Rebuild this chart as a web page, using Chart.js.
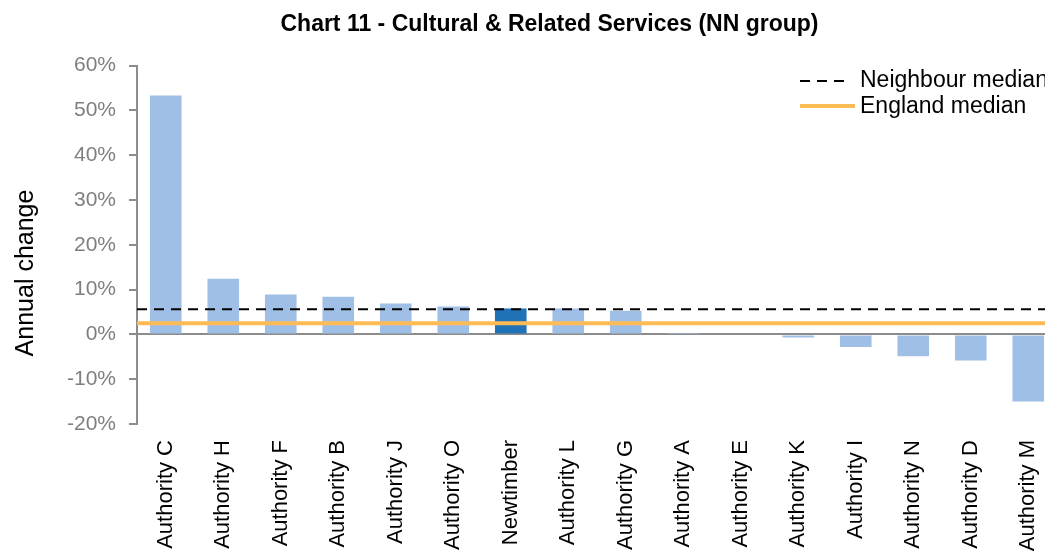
<!DOCTYPE html>
<html lang="en">
<head>
  <meta charset="UTF-8">
  <title>Chart 11 - Cultural & Related Services (NN group)</title>
  <script src="https://cdn.jsdelivr.net/npm/chart.js"></script>
  <style>
    body { margin: 0; background: #fff; }
    #wrap { width: 1045px; height: 552px; overflow: hidden; }
  </style>
</head>
<body>
<div id="wrap"><canvas id="chart11" width="1045" height="552"></canvas></div>

<script>
  const authorities = ['Authority C', 'Authority H', 'Authority F', 'Authority B', 'Authority J', 'Authority O',
    'Newtimber', 'Authority L', 'Authority G', 'Authority A', 'Authority E', 'Authority K',
    'Authority I', 'Authority N', 'Authority D', 'Authority M'];
  const annualChange = [53.3, 12.4, 8.9, 8.4, 6.9, 6.2, 5.8, 5.8, 5.3, 0.3, 0.2, -0.7, -2.8, -4.9, -5.8, -15.0];
  const neighbourMedian = 5.6;
  const englandMedian = 2.5;
  const yTicks = [60, 50, 40, 30, 20, 10, 0, -10, -20];

  const lightBlue = '#a0bfe6';
  const darkBlue = '#1f72b6';
  const orange = '#fdbb55';
  const fontFamily = '"Liberation Sans", Arial, sans-serif';

  const barColours = authorities.map(a => a === 'Newtimber' ? darkBlue : lightBlue);
  const fullSpan = [0, authorities.length];

  // the original plot runs a little past the right edge of the picture
  const overhang = 12;
  const overhangPlugin = {
    id: 'overhang',
    afterLayout(chart) {
      ['x', 'xLine'].forEach(id => {
        const s = chart.scales[id];
        s.right += overhang;
        s.width += overhang;
        s.configure();
      });
    }
  };

  // legend in the top right corner over the plot, and the y title sitting a bit low, as in the original
  const extrasPlugin = {
    id: 'extras',
    afterDraw(chart) {
      const ctx = chart.ctx;
      ctx.save();
      ctx.lineWidth = 2;
      ctx.strokeStyle = '#000';
      ctx.setLineDash([10, 7]);
      ctx.beginPath();
      ctx.moveTo(800, 81);
      ctx.lineTo(850, 81);
      ctx.stroke();
      ctx.setLineDash([]);
      ctx.lineWidth = 4;
      ctx.strokeStyle = orange;
      ctx.beginPath();
      ctx.moveTo(800, 106);
      ctx.lineTo(855, 106);
      ctx.stroke();
      ctx.fillStyle = '#000';
      ctx.font = '23px ' + fontFamily;
      ctx.textBaseline = 'middle';
      ctx.fillText('Neighbour median', 860, 81);
      ctx.fillText('England median', 860, 107);

      ctx.translate(26, 273);
      ctx.rotate(-Math.PI / 2);
      ctx.textAlign = 'center';
      ctx.font = '25px ' + fontFamily;
      ctx.fillText('Annual change', 0, 0);
      ctx.restore();
    }
  };

  const ctx = document.getElementById('chart11').getContext('2d');
  new Chart(ctx, {
    data: {
      labels: authorities,
      datasets: [
        {
          type: 'line',
          label: 'Neighbour median',
          data: fullSpan.map(x => ({ x: x, y: neighbourMedian })),
          xAxisID: 'xLine',
          borderColor: '#000',
          borderWidth: 2,
          borderDash: [10, 7],
          pointRadius: 0,
          order: 1
        },
        {
          type: 'line',
          label: 'England median',
          data: fullSpan.map(x => ({ x: x, y: englandMedian })),
          xAxisID: 'xLine',
          borderColor: orange,
          borderWidth: 4,
          pointRadius: 0,
          order: 2
        },
        {
          type: 'bar',
          label: 'Annual change',
          data: annualChange,
          xAxisID: 'x',
          backgroundColor: barColours,
          grouped: false,
          categoryPercentage: 1,
          barPercentage: 0.55,
          order: 3
        }
      ]
    },
    options: {
      responsive: false,
      animation: false,
      layout: { padding: { left: 54, right: 0, top: 0, bottom: 0 } },
      plugins: {
        legend: { display: false },
        tooltip: { enabled: false },
        title: {
          display: true,
          text: 'Chart 11 - Cultural & Related Services (NN group)',
          color: '#000',
          font: { family: fontFamily, size: 23, weight: 'bold' },
          padding: { top: 11, bottom: 27 }
        }
      },
      scales: {
        x: {
          type: 'category',
          grid: { display: false },
          border: { display: false },
          afterFit(axis) {
            axis.height = 128;
            axis.paddingRight = 0;
          },
          ticks: {
            color: '#000',
            minRotation: 90,
            maxRotation: 90,
            autoSkip: false,
            padding: 8,
            font: { family: fontFamily, size: 22 }
          }
        },
        xLine: {
          type: 'linear',
          display: false,
          min: 0,
          max: authorities.length
        },
        y: {
          min: -20,
          max: 60,
          afterBuildTicks(axis) {
            axis.ticks = yTicks.map(v => ({ value: v }));
          },
          border: { display: true, color: '#8c8c8c', width: 2 },
          grid: {
            drawOnChartArea: true,
            color: c => c.tick && c.tick.value === 0 ? '#8c8c8c' : 'rgba(0,0,0,0)',
            lineWidth: 2,
            tickColor: '#8c8c8c',
            tickLength: 8
          },
          ticks: {
            color: '#7f7f7f',
            padding: 13,
            font: { family: fontFamily, size: 21 },
            callback: v => v + '%'
          }
        }
      }
    },
    plugins: [overhangPlugin, extrasPlugin]
  });
</script>
</body>
</html>
